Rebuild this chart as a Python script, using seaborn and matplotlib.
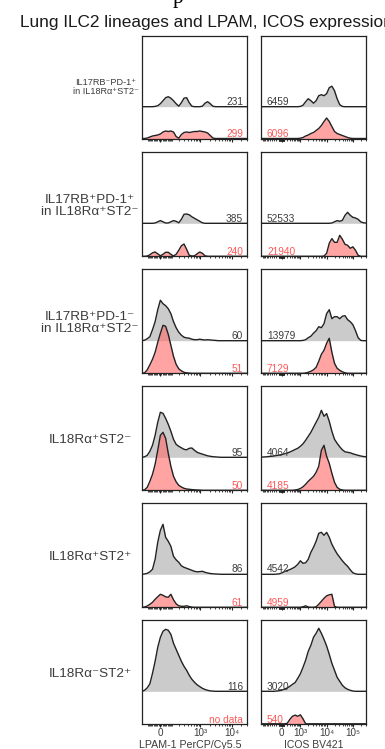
import numpy as np
import matplotlib
matplotlib.use("Agg")
import matplotlib.pyplot as plt
import seaborn as sns

# histogram bins (display channel 0-1000) and counts
channel = np.arange(0, 1001, 25)

row_labels = [
    "IL17RB\u207bPD-1\u207a\nin IL18R\u03b1\u207aST2\u207b",
    "IL17RB\u207aPD-1\u207a\nin IL18R\u03b1\u207aST2\u207b",
    "IL17RB\u207aPD-1\u207b\nin IL18R\u03b1\u207aST2\u207b",
    "IL18R\u03b1\u207aST2\u207b",
    "IL18R\u03b1\u207aST2\u207a",
    "IL18R\u03b1\u207bST2\u207a",
]

lpam_gray = [
    [0, 0, 0, 0, 0, 0.3, 1, 3, 6, 9, 10, 8.5, 6, 3, 0.5, 4, 8.5, 9, 4, 0.5, 0,
     0, 0, 0.5, 3.5, 5, 3, 0.5, 0, 0, 0, 0, 0, 0, 0, 0, 0, 0, 0, 0, 0],
    [0, 0, 0, 0, 0, 0.3, 1.5, 2.7, 1.5, 0.3, 0.3, 1.5, 2.7, 2, 0.5, 4, 9, 9.3, 8.5, 6.5, 5,
     3.5, 2, 0.5, 0, 0, 0, 0, 0, 0, 0, 0, 0, 0, 0, 0, 0, 0, 0, 0, 0],
    [0, 0.5, 2, 4, 11, 19, 31, 40.5, 37, 35, 32, 27, 19, 13, 8.5, 5.5, 3.5, 2.8, 2.5, 1.5, 1,
     1, 1.5, 1, 0.7, 1, 0.7, 0.5, 0.3, 0, 0, 0, 0, 0, 0, 0, 0, 0, 0, 0, 0],
    [0, 0.5, 2, 6, 12, 22, 35, 45, 44, 39, 33, 26, 18, 13, 11, 9.5, 8, 7.5, 9, 9.3, 7,
     5, 4, 3.2, 2.3, 1.5, 1, 0.6, 0.4, 0.2, 0, 0, 0, 0, 0, 0, 0, 0, 0, 0, 0],
    [0, 0.3, 1, 2.5, 5, 15, 32, 44, 50, 37, 33, 28, 18, 14.5, 12, 8.5, 7, 6, 5, 4, 3,
     2.5, 2.7, 3, 2, 1.3, 0.8, 0.5, 0.3, 0.2, 0, 0, 0, 0, 0, 0, 0, 0, 0, 0, 0],
    [0, 1, 3.5, 7.5, 18, 30, 44, 54, 60, 62, 61, 57, 48, 42, 36, 30, 25, 21, 16, 12, 9,
     6.5, 4.7, 3, 1.8, 1, 0.4, 0.2, 0, 0, 0, 0, 0, 0, 0, 0, 0, 0, 0, 0, 0],
]

lpam_red = [
    [0, 0, 0.5, 1.5, 2.5, 3, 3.5, 4.5, 6.5, 7.5, 7, 7.5, 6.5, 2, 0.3, 4, 6, 6.5, 6, 6.5, 7,
     7, 7.5, 7, 6.5, 5.5, 3, 0.5, 0, 0, 0, 0, 0, 0, 0, 0, 0, 0, 0, 0, 0],
    [0, 0, 0.3, 1.5, 3.5, 4.3, 2.5, 0.5, 2, 4, 4, 2, 0.3, 2, 6, 10.5, 12.3, 7, 1, 0.3, 0.5,
     2.5, 4.3, 3, 0.5, 0, 0, 0, 0, 0, 0, 0, 0, 0, 0, 0, 0, 0, 0, 0, 0],
    [0, 0.5, 3.5, 8.5, 14, 21, 31, 40, 48, 47, 39, 28, 17, 9, 4.5, 2.5, 1, 0.5, 0.2, 0, 0,
     0, 0, 0, 0, 0, 0, 0, 0, 0, 0, 0, 0, 0, 0, 0, 0, 0, 0, 0, 0],
    [0, 0.5, 3, 9, 16, 26, 40, 55, 58, 52, 37, 24, 14, 8.5, 5, 3.3, 2, 1.3, 1, 0.7, 0.5,
     0.3, 0.2, 0, 0, 0, 0, 0, 0, 0, 0, 0, 0, 0, 0, 0, 0, 0, 0, 0, 0],
    [0, 0.3, 1.3, 3, 5, 8, 10.5, 13, 12, 10.5, 10, 13, 7.5, 3.5, 1.5, 1, 1, 1.5, 0.7, 0.2, 0,
     0, 0, 0, 0, 0, 0, 0, 0, 0, 0, 0, 0, 0, 0, 0, 0, 0, 0, 0, 0],
    None,  # no data
]

icos_gray = [
    [0, 0, 0, 0, 0, 0, 0, 0, 0, 0, 0, 0, 0, 0, 0, 0.3, 1.5, 5, 8, 6, 3.5,
     6, 11, 12, 11, 13, 19, 20.5, 16, 8, 2, 0.3, 0, 0, 0, 0, 0, 0, 0, 0, 0],
    [0, 0, 0, 0, 0, 0, 0, 0, 0, 0, 0, 0, 0, 0, 0, 0, 0, 0, 0, 0, 0,
     0, 0, 0, 0, 0, 0, 0.3, 1.5, 2.7, 2, 3, 8, 11, 8, 6, 5.3, 4, 1.5, 0.5, 0.3],
    [0, 0, 0, 0, 0, 0, 0, 0, 0, 0, 0, 0, 0, 0, 0, 0, 0.3, 1, 3, 4.5, 7.5,
     10, 14, 13, 17, 27, 31, 22, 24, 24, 22, 24.5, 25, 21, 19, 16, 10, 3, 0.3, 0, 0],
    [0.2, 0.3, 0.5, 0.8, 1, 1.3, 1.8, 2.3, 2.8, 3.5, 4.3, 5.3, 6.5, 7.8, 9, 11, 13.5, 17, 21, 25, 30,
     35, 40, 47, 41, 43.7, 36, 26, 18, 14, 10.5, 7.5, 5.5, 5, 4.5, 3.5, 2.7, 2, 1.3, 0.8, 0.5],
    [0, 0, 0, 0, 0, 0, 0.2, 0.5, 1.5, 2.8, 3.8, 4.7, 6, 7.5, 10, 13.5, 11, 11.5, 15, 22, 27,
     33, 41, 42, 39, 42, 37, 30, 25, 20.5, 17, 13.5, 10.5, 8, 4.5, 1.5, 0.5, 0, 0, 0, 0],
    [0, 0, 0, 0, 0, 0, 0.3, 0.6, 1.2, 2.2, 3.4, 5, 7, 8.7, 13, 17.5, 24, 31, 40, 46, 54,
     58, 63, 58, 52, 45.3, 37, 28, 21, 14, 10, 6, 3.5, 2, 1, 0.3, 0, 0, 0, 0, 0],
]

icos_red = [
    [0, 0, 0, 0, 0, 0, 0, 0, 0, 0, 0, 0, 0, 0, 0, 0.3, 1, 2.5, 3.5, 5, 6,
     8, 10, 13, 17, 20.5, 17, 12, 7, 5, 4, 3, 2, 1, 0.3, 0, 0, 0, 0, 0, 0],
    [0, 0, 0, 0, 0, 0, 0, 0, 0, 0, 0, 0, 0, 0, 0, 0, 0, 0, 0, 0, 0,
     0, 0, 0, 0.3, 3, 13, 17.7, 14, 14, 21, 17, 12, 11, 8, 9.5, 6, 1, 0, 0, 0],
    [0, 0, 0, 0, 0, 0, 0, 0, 0, 0, 0, 0, 0, 0, 0, 0, 0, 0.3, 1, 2, 3.5,
     6, 12, 19, 23, 30, 35, 21, 10, 5, 3, 1.5, 0.5, 0, 0, 0, 0, 0, 0, 0, 0],
    [0, 0, 0, 0, 0, 0, 0, 0, 0, 0, 0, 0, 0, 0.3, 0.8, 1.8, 3.5, 6, 9, 11.5, 14,
     18, 24, 40, 45, 34, 27, 17, 8, 3, 1, 0.3, 0, 0, 0, 0, 0, 0, 0, 0, 0],
    [0, 0, 0, 0, 0, 0, 0, 0, 0, 0, 0, 0, 0, 0, 0, 0, 0.5, 1.5, 0.3, 0, 0,
     0.5, 3, 6, 9, 11.5, 12.5, 13, 1, 0, 0, 0, 0, 0, 0, 0, 0, 0, 0, 0, 0],
    [0, 0, 0, 0, 0, 0, 0, 0, 0, 0, 0.5, 4.5, 7.5, 8.7, 7.5, 9, 5, 0, 0, 0, 0,
     0, 0, 0, 0, 0, 0, 0, 0, 0, 0, 0, 0, 0, 0, 0, 0, 0, 0, 0, 0],
]

lpam_gray_n = ["231", "385", "60", "95", "86", "116"]
lpam_red_n = ["299", "240", "51", "50", "61", "no data"]
icos_gray_n = ["6459", "52533", "13979", "4064", "4542", "3020"]
icos_red_n = ["6096", "21940", "7129", "4185", "4959", "540"]

lpam_ticks = [0, 1e3, 1e4]
lpam_ticklabels = ["0", "10\u00b3", "10\u2074"]
icos_ticks = [0, 1e3, 1e4, 1e5]
icos_ticklabels = ["0", "10\u00b3", "10\u2074", "10\u2075"]

# logicle-like display transform (a, b, w) per channel
lpam_scale = (0.171, 0.13, 103.0)
icos_scale = (0.197, 0.11, 410.0)

sns.set_style("white")
plt.rcParams["font.family"] = ["Liberation Sans", "DejaVu Sans"]

W, H = 385, 749
fig = plt.figure(figsize=(W / 100, H / 100), dpi=100)

GRAY_FILL = "#cbcbcb"
RED_FILL = (1.0, 0.42, 0.42)
LINE = "#222222"
TXT = "#3c3c3c"
RED_TXT = "#ff5858"

col_left = [142, 261]
col_w = 105
tops = [36, 152, 269, 386, 503, 620]
bottoms = [138.5, 256.3, 373.3, 490.3, 607.3, 723.8]
dividers = [106.7, 223.3, 340.7, 457.3, 574.3, 691.3]


def to_channel(v, scale):
    a, b, w = scale
    return 1000 * (a + b * np.arcsinh(np.asarray(v, dtype=float) / w))


def minor_values():
    vals = []
    for k in range(1, 6):
        for m in range(1, 10):
            vals += [m * 10 ** k, -m * 10 ** k]
    return vals


columns = [
    (lpam_gray, lpam_red, lpam_gray_n, lpam_red_n, lpam_scale, lpam_ticks, lpam_ticklabels),
    (icos_gray, icos_red, icos_gray_n, icos_red_n, icos_scale, icos_ticks, icos_ticklabels),
]

for r in range(6):
    h_px = bottoms[r] - tops[r]
    base = bottoms[r] - dividers[r]
    for c, (gray, red, gn, rn, scale, ticks, ticklabels) in enumerate(columns):
        ax = fig.add_axes([col_left[c] / W, 1 - bottoms[r] / H, col_w / W, h_px / H])
        g = base + np.array(gray[r], dtype=float)
        ax.fill_between(channel, base, g, color=GRAY_FILL, lw=0)
        sns.lineplot(x=channel, y=g, ax=ax, color=LINE, lw=1.0)
        if red[r] is not None:
            rv = np.array(red[r], dtype=float)
            ax.fill_between(channel, 0, rv, color=RED_FILL, alpha=0.62, lw=0)
            sns.lineplot(x=channel, y=rv, ax=ax, color=LINE, lw=1.0)
        ax.set_xlim(0, 1000)
        ax.set_ylim(0, h_px)
        ax.set_yticks([])
        ax.set_ylabel("")
        ax.set_xlabel("")

        # event counts
        if c == 0:
            ax.text(962, base + 1.8, gn[r], ha="right", va="baseline", fontsize=7.3, color=TXT)
            ax.text(962, 1.2, rn[r], ha="right", va="baseline", fontsize=7.3, color=RED_TXT)
        else:
            ax.text(57, base + 1.8, gn[r], ha="left", va="baseline", fontsize=7.3, color=TXT)
            ax.text(57, 1.2, rn[r], ha="left", va="baseline", fontsize=7.3, color=RED_TXT)

        # axis ticks
        major = to_channel(ticks, scale)
        minor = to_channel(minor_values(), scale)
        minor = [m for m in minor if 0 <= m <= 1000]
        ax.set_xticks(major)
        ax.set_xticks(minor, minor=True)
        ax.tick_params(axis="x", which="major", direction="out", length=2.4, width=0.8,
                       color=LINE, pad=0.8, labelsize=7.1, labelcolor=TXT, bottom=True)
        ax.tick_params(axis="x", which="minor", direction="out", length=1.5, width=0.6,
                       color=LINE, bottom=True)
        if r == 5:
            ax.set_xticklabels(ticklabels)
        else:
            ax.set_xticklabels([])
        for sp in ax.spines.values():
            sp.set_visible(True)
            sp.set_color(LINE)
            sp.set_linewidth(0.9)

    # row label
    mid = (tops[r] + bottoms[r]) / 2
    if r == 0:
        fig.text(105.5 / W, 1 - (mid - 0.5) / H, row_labels[r], ha="center", va="center",
                 multialignment="center", fontsize=6.6, color=TXT, linespacing=1.05)
    else:
        fig.text(90 / W, 1 - (mid + 2) / H, row_labels[r], ha="center", va="center",
                 multialignment="center", fontsize=9.7, color=TXT, linespacing=1.0)

fig.text(190 / W, 1 - 748.3 / H, "LPAM-1 PerCP/Cy5.5", ha="center", va="baseline",
         fontsize=7.7, color=TXT)
fig.text(313.5 / W, 1 - 748.3 / H, "ICOS BV421", ha="center", va="baseline",
         fontsize=7.5, color=TXT)

# title (clipped at the right edge, as in the source)
fig.text(20 / W, 1 - 27 / H, "Lung ILC2 lineages and LPAM, ICOS expression",
         ha="left", va="baseline", fontsize=12.4, color="#1a1a1a")
# stray glyph from the text above the panel
fig.text(173 / W, 1 - 3.5 / H, "p", ha="left", va="baseline", fontsize=15.5,
         color="black", family="Liberation Serif")

fig.savefig("out.png", dpi=100)
